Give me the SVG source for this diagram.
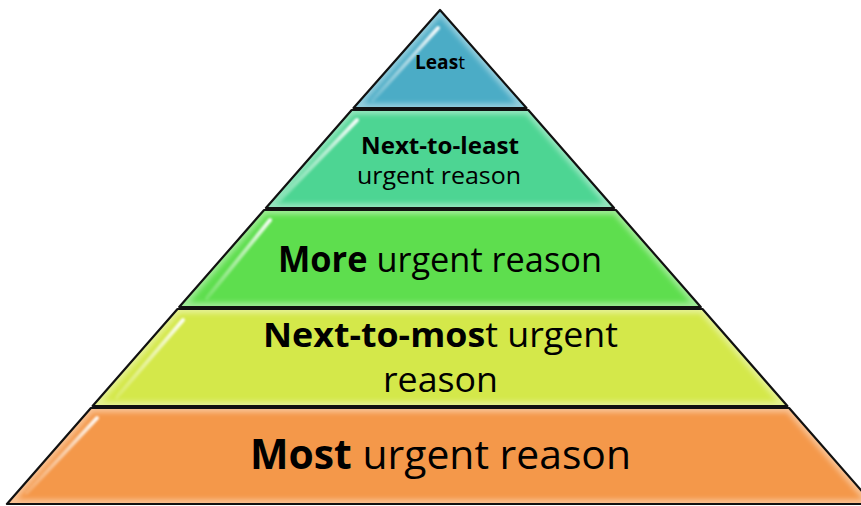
<svg xmlns="http://www.w3.org/2000/svg" width="861" height="506" viewBox="0 0 861 506">
<style>
  .edge{fill:none;stroke:#111;stroke-width:2.2;stroke-linejoin:round}
  .glow{fill:none;stroke:#fff;stroke-opacity:.4;stroke-width:9;filter:url(#soft)}
  .streak{stroke:url(#sg);stroke-width:4;stroke-linecap:round;filter:url(#soft1)}
  text{font-family:"Open Sans","Noto Sans","Liberation Sans",sans-serif;fill:#000}
  .b{font-weight:bold}
</style>
<defs>
  <filter id="soft" x="-10%" y="-10%" width="120%" height="120%"><feGaussianBlur stdDeviation="2.5"/></filter>
  <filter id="soft1" x="-20%" y="-20%" width="140%" height="140%"><feGaussianBlur stdDeviation="0.8"/></filter>
  <linearGradient id="sg" x1="0" y1="0" x2="0" y2="1" gradientUnits="objectBoundingBox">
    <stop offset="0" stop-color="#fff" stop-opacity=".95"/>
    <stop offset=".35" stop-color="#fff" stop-opacity=".6"/>
    <stop offset="1" stop-color="#fff" stop-opacity=".15"/>
  </linearGradient>
  <clipPath id="c1"><polygon points="440,10 526.5,108 353.5,108"/></clipPath>
  <clipPath id="c2"><polygon points="351.7,110 528.3,110 614.1,208 265.9,208"/></clipPath>
  <clipPath id="c3"><polygon points="264.1,210 615.9,210 700.8,307 179.2,307"/></clipPath>
  <clipPath id="c4"><polygon points="177.5,309 702.5,309 787.4,406 92.6,406"/></clipPath>
  <clipPath id="c5"><polygon points="90.9,408 789.1,408 873.1,504 6.9,504"/></clipPath>
</defs>

<g id="layer1">
  <polygon points="440,10 526.5,108 353.5,108" fill="#4BACC6"/>
  <polygon class="glow" points="440,10 526.5,108 353.5,108" clip-path="url(#c1)"/>
  <line class="streak" x1="438" y1="28" x2="373" y2="100"/>
  <polygon class="edge" points="440,10 526.5,108 353.5,108"/>
  <text x="415" y="68.5" font-size="19" textLength="50" lengthAdjust="spacingAndGlyphs"><tspan class="b">Leas</tspan>t</text>
</g>

<g id="layer2">
  <polygon points="351.7,110 528.3,110 614.1,208 265.9,208" fill="#4DD593"/>
  <polygon class="glow" points="351.7,110 528.3,110 614.1,208 265.9,208" clip-path="url(#c2)"/>
  <line class="streak" x1="357" y1="120" x2="280" y2="200"/>
  <polygon class="edge" points="351.7,110 528.3,110 614.1,208 265.9,208"/>
  <text x="361" y="154" font-size="23" class="b" textLength="158" lengthAdjust="spacingAndGlyphs">Next-to-least</text>
  <text x="357" y="184" font-size="23" textLength="164" lengthAdjust="spacingAndGlyphs">urgent reason</text>
</g>

<g id="layer3">
  <polygon points="264.1,210 615.9,210 700.8,307 179.2,307" fill="#5EDE4E"/>
  <polygon class="glow" points="264.1,210 615.9,210 700.8,307 179.2,307" clip-path="url(#c3)"/>
  <line class="streak" x1="270" y1="220" x2="207" y2="298"/>
  <polygon class="edge" points="264.1,210 615.9,210 700.8,307 179.2,307"/>
  <text x="278" y="272" font-size="35" textLength="324" lengthAdjust="spacingAndGlyphs"><tspan class="b">More</tspan> urgent reason</text>
</g>

<g id="layer4">
  <polygon points="177.5,309 702.5,309 787.4,406 92.6,406" fill="#D4E84A"/>
  <polygon class="glow" points="177.5,309 702.5,309 787.4,406 92.6,406" clip-path="url(#c4)"/>
  <line class="streak" x1="183" y1="320" x2="117" y2="397"/>
  <polygon class="edge" points="177.5,309 702.5,309 787.4,406 92.6,406"/>
  <text x="263" y="347" font-size="34" textLength="355" lengthAdjust="spacingAndGlyphs"><tspan class="b">Next-to-mos</tspan>t urgent</text>
  <text x="383" y="392" font-size="34" textLength="115" lengthAdjust="spacingAndGlyphs">reason</text>
</g>

<g id="layer5">
  <polygon points="90.9,408 789.1,408 873.1,504 6.9,504" fill="#F4984A"/>
  <polygon class="glow" points="90.9,408 789.1,408 873.1,504 6.9,504" clip-path="url(#c5)"/>
  <line class="streak" x1="97" y1="418" x2="27" y2="493"/>
  <polygon class="edge" points="90.9,408 789.1,408 873.1,504 6.9,504"/>
  <text x="250" y="469" font-size="41" textLength="381" lengthAdjust="spacingAndGlyphs"><tspan class="b">Most</tspan> urgent reason</text>
</g>
</svg>
